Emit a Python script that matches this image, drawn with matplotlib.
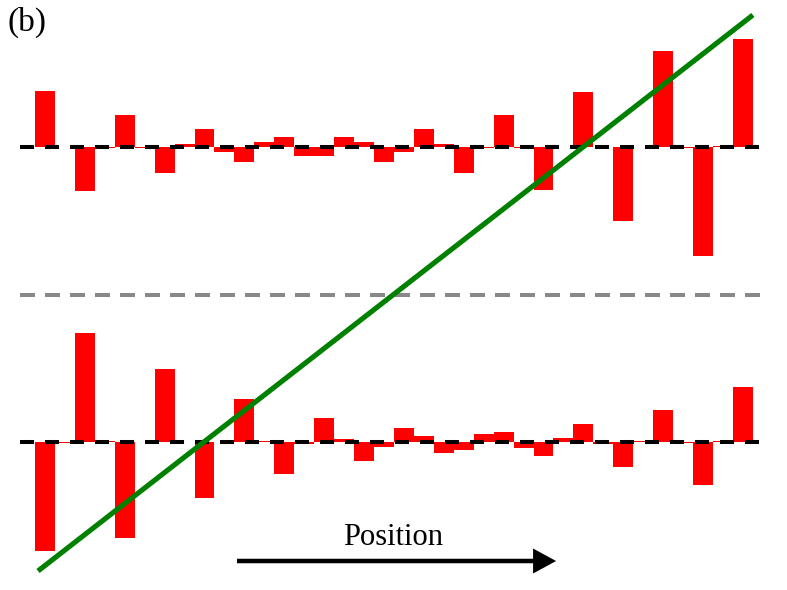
import matplotlib
matplotlib.use("Agg")
import matplotlib.pyplot as plt
import numpy as np

# bar heights (arbitrary units), 36 positions per row
top_row = [56, 0.5, -44, -1, 32, -1, -25.6, 2.7, 18, -5,
           -15, 5, 10, -8.5, -8.5, 10, 5, -15, -5, 18,
           2.7, -25.6, -1, 32, -1, -43, 0.5, 55, 0.5, -74,
           0.5, 96, -1, -109, 1, 108]
bottom_row = [-109, -1, 108.7, 1, -96, 0.5, 73, 0.5, -56, 0.5,
              42.7, 1, -32, -1.5, 24.5, 3.5, -19, -4.6, 14, 6,
              -11, -8.3, 8.2, 10.5, -6, -14, 4.2, 18.5, -1.5, -25,
              1, 32, -1, -43, 1, 55]
label_text = "Position"
panel_text = "(b)"

plt.rcParams['lines.scale_dashes'] = False

fig = plt.figure(figsize=(7.87, 5.90), dpi=100)
ax = fig.add_axes([0, 0, 1, 1])
ax.set_axis_off()

n = len(top_row)
x = np.arange(n)
top_base = 443
bottom_base = 148
mid_line = 295

ax.bar(x, top_row, width=1.0, bottom=top_base, color='#ff0000', linewidth=0)
ax.bar(x, bottom_row, width=1.0, bottom=bottom_base, color='#ff0000', linewidth=0)

x0, x1 = -1.25, n - 0.1
ax.plot([x0, x1], [top_base, top_base], color='black', lw=2.9, dashes=(10.1, 7.9))
ax.plot([x0, x1], [bottom_base, bottom_base], color='black', lw=2.9, dashes=(10.1, 7.9))
ax.plot([x0, x1], [mid_line, mid_line], color='#888888', lw=2.9, dashes=(10.8, 7.2))

# trend line across the whole panel
ax.plot([-0.35, n - 0.5], [19, 575], color='#008000', lw=3.7, solid_capstyle='butt')

# position arrow
ax.arrow(9.63, 29, 16.0, 0, width=4.5, head_width=25, head_length=23 / 19.94,
         length_includes_head=True, color='black', lw=0)
ax.text(17.45, 45, label_text, ha='center', va='baseline',
        fontsize=22, family='Liberation Serif')
ax.text(-1.9, 583, panel_text, ha='left', va='top',
        fontsize=24, family='Liberation Serif')

ax.set_xlim(-2.255, 37.21)
ax.set_ylim(0, 590)

fig.savefig("out.png", dpi=100)
